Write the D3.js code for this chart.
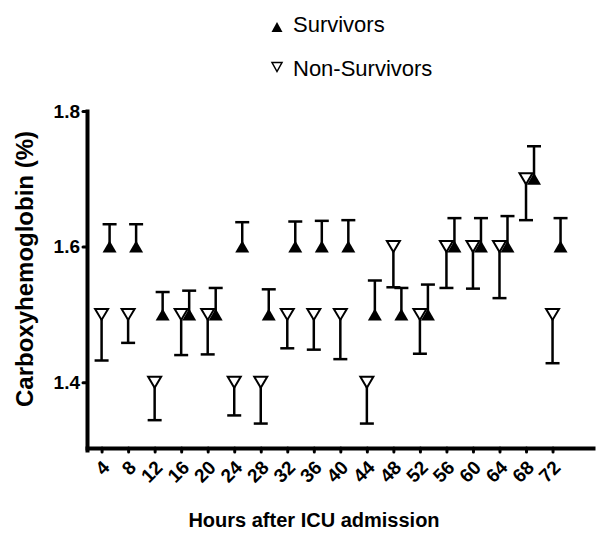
<!DOCTYPE html>
<html>
<head>
<meta charset="utf-8">
<script src="https://cdn.jsdelivr.net/npm/d3@7"></script>
<style>
body { margin: 0; background: #fff; }
svg { font-family: Arial, "Liberation Sans", sans-serif; }
</style>
</head>
<body>
<svg width="600" height="541"></svg>
<script>
// hours after admission
var hours = [4, 8, 12, 16, 20, 24, 28, 32, 36, 40, 44, 48, 52, 56, 60, 64, 68, 72];
// survivors: mean and upper error
var survMean = [1.6, 1.6, 1.5, 1.5, 1.5, 1.6, 1.5, 1.6, 1.6, 1.6, 1.5, 1.5, 1.5, 1.6, 1.6, 1.6, 1.7, 1.6];
var survErr = [0.033, 0.033, 0.033, 0.035, 0.039, 0.036, 0.037, 0.037, 0.038, 0.039, 0.05, 0.039, 0.044, 0.042, 0.042, 0.045, 0.048, 0.042];
// non-survivors: mean and lower error
var nonMean = [1.5, 1.5, 1.4, 1.5, 1.5, 1.4, 1.4, 1.5, 1.5, 1.5, 1.4, 1.6, 1.5, 1.6, 1.6, 1.6, 1.7, 1.5];
var nonErr = [0.068, 0.042, 0.056, 0.06, 0.059, 0.049, 0.061, 0.05, 0.052, 0.066, 0.061, 0.06, 0.058, 0.061, 0.062, 0.076, 0.061, 0.072];
var yTicks = [1.4, 1.6, 1.8];

var svg = d3.select("svg");

var x = d3.scaleLinear().domain([1.8, 78.1]).range([87, 593]);
var y = d3.scaleLinear().domain([1.3, 1.8]).range([450, 111]);
var dodge = 8;

var surv = hours.map(function(h, i) { return {h: h, m: survMean[i], e: survErr[i]}; });
var non = hours.map(function(h, i) { return {h: h, m: nonMean[i], e: nonErr[i]}; });

function tri(w, hgt, up) {
  var p = d3.path();
  if (up) {
    p.moveTo(0, -hgt / 2); p.lineTo(w / 2, hgt / 2); p.lineTo(-w / 2, hgt / 2);
  } else {
    p.moveTo(-w / 2, -hgt / 2); p.lineTo(w / 2, -hgt / 2); p.lineTo(0, hgt / 2);
  }
  p.closePath();
  return p.toString();
}

// axes
var xAxis = svg.append("g")
  .attr("transform", "translate(0,448)")
  .call(d3.axisBottom(x).tickValues(hours).tickSize(4).tickSizeOuter(0).tickFormat(""));
xAxis.select(".domain").attr("stroke-width", 4).attr("stroke-linecap", "square");
xAxis.selectAll(".tick line").attr("stroke-width", 3).attr("stroke-linecap", "round");

xAxis.selectAll(".tick").append("text")
  .attr("fill", "#000")
  .attr("font-size", 19)
  .attr("font-weight", "bold")
  .attr("text-anchor", "end")
  .attr("dy", "0.35em")
  .attr("transform", "translate(4,16) rotate(-45)")
  .text(function(d) { return d; });

var yAxis = svg.append("g")
  .attr("transform", "translate(87,0)")
  .call(d3.axisLeft(y).tickValues(yTicks).tickSize(4).tickSizeOuter(0).tickPadding(3).tickFormat(d3.format(".1f")));
yAxis.select(".domain").attr("stroke-width", 4).attr("stroke-linecap", "square");
yAxis.selectAll(".tick line").attr("stroke-width", 3).attr("stroke-linecap", "round");
yAxis.selectAll(".tick text")
  .attr("font-size", 19)
  .attr("font-weight", "bold")
  .attr("fill", "#000")
  .attr("font-family", null);

// non-survivors: error down
var gn = svg.append("g");
gn.selectAll(".stem").data(non).enter().append("line")
  .attr("x1", function(d) { return x(d.h); })
  .attr("x2", function(d) { return x(d.h); })
  .attr("y1", function(d) { return y(d.m); })
  .attr("y2", function(d) { return y(d.m - d.e); })
  .attr("stroke", "#000").attr("stroke-width", 2.5);
gn.selectAll(".cap").data(non).enter().append("line")
  .attr("x1", function(d) { return x(d.h) - 7; })
  .attr("x2", function(d) { return x(d.h) + 7; })
  .attr("y1", function(d) { return y(d.m - d.e); })
  .attr("y2", function(d) { return y(d.m - d.e); })
  .attr("stroke", "#000").attr("stroke-width", 2.5);
gn.selectAll(".mk").data(non).enter().append("path")
  .attr("transform", function(d) { return "translate(" + x(d.h) + "," + y(d.m) + ")"; })
  .attr("d", tri(13, 11, false))
  .attr("fill", "#fff").attr("stroke", "#000").attr("stroke-width", 2);

// survivors: error up
var gs = svg.append("g");
gs.selectAll(".stem").data(surv).enter().append("line")
  .attr("x1", function(d) { return x(d.h) + dodge; })
  .attr("x2", function(d) { return x(d.h) + dodge; })
  .attr("y1", function(d) { return y(d.m); })
  .attr("y2", function(d) { return y(d.m + d.e); })
  .attr("stroke", "#000").attr("stroke-width", 2.5);
gs.selectAll(".cap").data(surv).enter().append("line")
  .attr("x1", function(d) { return x(d.h) + dodge - 7; })
  .attr("x2", function(d) { return x(d.h) + dodge + 7; })
  .attr("y1", function(d) { return y(d.m + d.e); })
  .attr("y2", function(d) { return y(d.m + d.e); })
  .attr("stroke", "#000").attr("stroke-width", 2.5);
gs.selectAll(".mk").data(surv).enter().append("path")
  .attr("transform", function(d) { return "translate(" + (x(d.h) + dodge) + "," + y(d.m) + ")"; })
  .attr("d", tri(14, 12, true))
  .attr("fill", "#000");

// titles
svg.append("text")
  .attr("x", 314).attr("y", 527)
  .attr("text-anchor", "middle")
  .attr("font-size", 20).attr("font-weight", "bold")
  .text("Hours after ICU admission");

svg.append("text")
  .attr("transform", "translate(33,269) rotate(-90)")
  .attr("text-anchor", "middle")
  .attr("font-size", 24).attr("font-weight", "bold")
  .text("Carboxyhemoglobin (%)");

// legend
var legend = svg.append("g");
legend.append("path").attr("transform", "translate(277,27)").attr("d", tri(11, 10, true)).attr("fill", "#000");
legend.append("text").attr("x", 293).attr("y", 32).attr("font-size", 22).text("Survivors");
legend.append("path").attr("transform", "translate(277,67)").attr("d", tri(10, 9, false))
  .attr("fill", "#fff").attr("stroke", "#000").attr("stroke-width", 1.5);
legend.append("text").attr("x", 293).attr("y", 76).attr("font-size", 22).text("Non-Survivors");
</script>
</body>
</html>
